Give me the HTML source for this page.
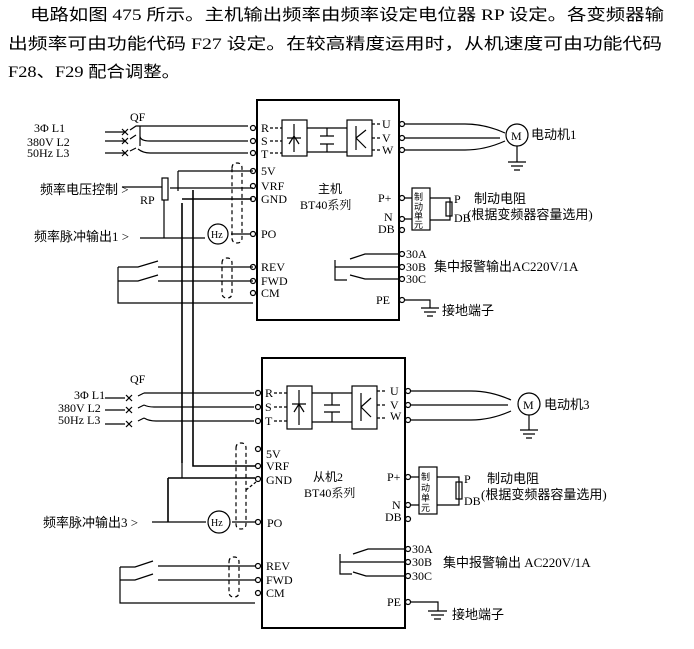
<!DOCTYPE html>
<html><head><meta charset="utf-8"><style>
body{margin:0;background:#fff;}
svg{display:block}
text{font-family:"Liberation Serif","Noto Serif CJK SC",serif;fill:#000}
.c{font-family:"Liberation Serif","Noto Sans CJK SC",sans-serif}
</style></head><body>
<svg width="694" height="649" viewBox="0 0 694 649" xmlns="http://www.w3.org/2000/svg" stroke="#000" fill="none" stroke-width="1.2">
<g stroke="none" font-size="16" class="c">
<text x="30" y="20" class="c" textLength="634" lengthAdjust="spacingAndGlyphs">电路如图 475 所示。主机输出频率由频率设定电位器 RP 设定。各变频器输</text>
<text x="8" y="49" class="c" textLength="654" lengthAdjust="spacingAndGlyphs">出频率可由功能代码 F27 设定。在较高精度运用时，从机速度可由功能代码</text>
<text x="8" y="77" class="c" textLength="172" lengthAdjust="spacingAndGlyphs">F28、F29 配合调整。</text>
</g>

<!-- ===== Box 1 ===== -->
<rect x="257" y="100" width="142" height="220" stroke-width="2"/>
<g font-size="12" stroke="none">
<text x="261" y="132">R</text><text x="261" y="145">S</text><text x="261" y="158">T</text>
<text x="261" y="175">5V</text><text x="261" y="190">VRF</text><text x="261" y="203">GND</text>
<text x="261" y="238">PO</text>
<text x="261" y="271">REV</text><text x="261" y="285">FWD</text><text x="261" y="297">CM</text>
<text x="382" y="128">U</text><text x="382" y="142">V</text><text x="382" y="154">W</text>
<text x="378" y="202">P+</text><text x="384" y="221">N</text><text x="378" y="233">DB</text>
<text x="406" y="258">30A</text><text x="406" y="271">30B</text><text x="406" y="283">30C</text>
<text x="376" y="304">PE</text>
<text x="318" y="193" class="c">主机</text><text x="300" y="209">BT40系列</text>
<text x="34" y="132">3Φ L1</text><text x="27" y="146">380V L2</text><text x="27" y="157">50Hz L3</text>
<text x="130" y="121">QF</text>
<text x="140" y="204">RP</text>
<text x="531" y="139" class="c" font-size="13">电动机1</text>
<text x="454" y="203">P</text><text x="454" y="222">DB</text>
<text x="474" y="203" class="c" font-size="13">制动电阻</text>
<text x="467" y="219" class="c" font-size="13">(根据变频器容量选用)</text>
<text x="434" y="271" class="c" font-size="13">集中报警输出AC220V/1A</text>
<text x="442" y="315" class="c" font-size="13">接地端子</text>
<text x="40" y="194" class="c" font-size="13">频率电压控制 &gt;</text>
<text x="34" y="241" class="c" font-size="13">频率脉冲输出1 &gt;</text>
</g>
<g fill="#fff">
<circle cx="253" cy="128" r="2.5"/><circle cx="253" cy="141" r="2.5"/><circle cx="253" cy="153" r="2.5"/>
<circle cx="253" cy="171" r="2.5"/><circle cx="253" cy="186" r="2.5"/><circle cx="253" cy="199" r="2.5"/>
<circle cx="253" cy="234" r="2.5"/><circle cx="253" cy="267" r="2.5"/><circle cx="253" cy="281" r="2.5"/><circle cx="253" cy="293" r="2.5"/>
<circle cx="402" cy="124" r="2.5"/><circle cx="402" cy="138" r="2.5"/><circle cx="402" cy="150" r="2.5"/>
<circle cx="402" cy="198" r="2.5"/><circle cx="402" cy="219" r="2.5"/><circle cx="402" cy="230" r="2.5"/>
<circle cx="402" cy="254" r="2.5"/><circle cx="402" cy="267" r="2.5"/><circle cx="402" cy="279" r="2.5"/>
<circle cx="402" cy="300" r="2.5"/>
</g>
<rect x="282" y="120" width="25" height="36"/>
<path d="M294 124v28M287 138h14M289 144l5-8 5 8"/>
<path d="M270 128h12M270 141h12M270 153h12" stroke-dasharray="3 2"/>
<path d="M307 128h40M307 152h40M327 128v8M320 136h14M320 144h14M327 144v8"/>
<rect x="347" y="120" width="25" height="36"/>
<path d="M356 126v24M356 138l10-8M356 138l10 10"/>
<path d="M372 124h8M372 138h8M372 150h8" stroke-dasharray="3 2"/>
<path d="M105 132h20M105 141h20M105 153h20"/>
<path d="M122 129l6 6M128 129l-6 6M122 138l6 6M128 138l-6 6M122 150l6 6M128 150l-6 6"/>
<path d="M130 130l6-4h2M130 139l6-4M130 151l6-3"/>
<path d="M140 126v20M138 126h110M140 136q0 5 10 5h98M138 149q5 4 12 4h98"/>
<path d="M405 124h60q20 0 40 9M405 138h95M405 150h60q20 0 40-9"/>
<circle cx="517" cy="135" r="11"/>
<text x="511" y="140" font-size="12" stroke="none" fill="#000">M</text>
<path d="M517 146v16M508 162h18M511 166h12M514 170h6"/>
<path d="M178 171h75M122 187h40"/>
<rect x="162" y="178" width="6" height="22"/>
<path d="M170 188h83M164 200v38M178 171v20"/>
<path d="M182 203v140M182 199h70M193 190v153" stroke-width="1.6"/>
<path d="M140 238h65M231 234h20"/>
<circle cx="218" cy="234" r="10"/>
<text x="211" y="238" font-size="10" stroke="none" fill="#000">Hz</text>
<path d="M232 168q0-5 5-5t5 5v70q0 5-5 5t-5-5z" stroke-dasharray="4 3"/>
<path d="M118 267v36h135M118 267h20l20-6M118 281h20l20-6M158 267h95M158 281h95"/>
<path d="M222 263q0-5 5-5t5 5v30q0 5-5 5t-5-5z" stroke-dasharray="4 3"/>
<rect x="412" y="188" width="18" height="42"/>
<text x="414" y="200" font-size="9" class="c" stroke="none" fill="#000">制</text>
<text x="414" y="210" font-size="9" class="c" stroke="none" fill="#000">动</text>
<text x="414" y="219" font-size="9" class="c" stroke="none" fill="#000">单</text>
<text x="414" y="228" font-size="9" class="c" stroke="none" fill="#000">元</text>
<path d="M405 198h7M405 219h7M430 198h20v22h-20"/>
<rect x="446" y="202" width="6" height="14"/>
<path d="M400 254h-35l-15 5M400 267h-65M400 279h-35l-15-4M335 260v20h12"/>
<path d="M405 300h25v8M421 308h18M424 312h12M427 316h6"/>

<!-- ===== Box 2 ===== -->
<rect x="262" y="358" width="143" height="270" stroke-width="2"/>
<g font-size="12" stroke="none">
<text x="265" y="397">R</text><text x="265" y="411">S</text><text x="265" y="425">T</text>
<text x="266" y="458">5V</text><text x="266" y="470">VRF</text><text x="266" y="484">GND</text>
<text x="267" y="527">PO</text>
<text x="266" y="570">REV</text><text x="266" y="584">FWD</text><text x="266" y="597">CM</text>
<text x="390" y="395">U</text><text x="390" y="409">V</text><text x="390" y="420">W</text>
<text x="387" y="481">P+</text><text x="392" y="509">N</text><text x="385" y="521">DB</text>
<text x="412" y="553">30A</text><text x="412" y="566">30B</text><text x="412" y="580">30C</text>
<text x="387" y="606">PE</text>
<text x="313" y="481" class="c">从机2</text><text x="304" y="497">BT40系列</text>
<text x="74" y="399">3Φ L1</text><text x="58" y="412">380V L2</text><text x="58" y="424">50Hz L3</text>
<text x="130" y="383">QF</text>
<text x="544" y="409" class="c" font-size="13">电动机3</text>
<text x="464" y="483">P</text><text x="464" y="505">DB</text>
<text x="487" y="483" class="c" font-size="13">制动电阻</text>
<text x="481" y="499" class="c" font-size="13">(根据变频器容量选用)</text>
<text x="443" y="567" class="c" font-size="13">集中报警输出 AC220V/1A</text>
<text x="452" y="619" class="c" font-size="13">接地端子</text>
<text x="43" y="527" class="c" font-size="13">频率脉冲输出3 &gt;</text>
</g>
<g fill="#fff">
<circle cx="258" cy="393" r="2.5"/><circle cx="258" cy="407" r="2.5"/><circle cx="258" cy="421" r="2.5"/>
<circle cx="258" cy="449" r="2.5"/><circle cx="258" cy="466" r="2.5"/><circle cx="258" cy="479" r="2.5"/>
<circle cx="258" cy="522" r="2.5"/><circle cx="258" cy="566" r="2.5"/><circle cx="258" cy="580" r="2.5"/><circle cx="258" cy="593" r="2.5"/>
<circle cx="408" cy="391" r="2.5"/><circle cx="408" cy="405" r="2.5"/><circle cx="408" cy="420" r="2.5"/>
<circle cx="408" cy="477" r="2.5"/><circle cx="408" cy="505" r="2.5"/><circle cx="408" cy="519" r="2.5"/>
<circle cx="408" cy="549" r="2.5"/><circle cx="408" cy="562" r="2.5"/><circle cx="408" cy="576" r="2.5"/>
<circle cx="408" cy="602" r="2.5"/>
</g>
<rect x="287" y="386" width="25" height="43"/>
<path d="M299 390v35M292 404h14M294 412l5-8 5 8"/>
<path d="M274 393h13M274 407h13M274 421h13" stroke-dasharray="3 2"/>
<path d="M312 393h40M312 422h40M332 393v12M324 405h16M324 412h16M332 412v10"/>
<rect x="352" y="386" width="25" height="43"/>
<path d="M361 393v28M361 407l10-9M361 407l10 10"/>
<path d="M377 391h9M377 405h9M377 418h9" stroke-dasharray="3 2"/>
<path d="M105 398h20M105 410h20M105 424h20"/>
<path d="M126 395l6 6M132 395l-6 6M126 407l6 6M132 407l-6 6M126 421l6 6M132 421l-6 6"/>
<path d="M138 396l6-3M138 408l6-3M138 421l6-3"/>
<path d="M144 393h110M144 405q4 2 10 2h100M144 418q5 3 12 3h98"/>
<path d="M411 391h60q20 0 40 9M411 405h97M411 420h60q20 0 40-9"/>
<circle cx="529" cy="404" r="11"/>
<text x="523" y="409" font-size="12" stroke="none" fill="#000">M</text>
<path d="M529 415v15M520 430h18M523 434h12M526 438h6"/>
<path d="M182 343v120M193 343v123h62" stroke-width="1.6"/>
<path d="M168 478h87M168 478v44" stroke-width="1.6"/>
<path d="M182 463v15"/>
<path d="M152 522h54M232 522h23"/>
<circle cx="219" cy="522" r="11"/>
<text x="211" y="526" font-size="10" stroke="none" fill="#000">Hz</text>
<path d="M236 448q0-5 5-5t5 5v76q0 5-5 5t-5-5z" stroke-dasharray="4 3"/>
<path d="M246 490l10-8" stroke-dasharray="3 2"/>
<path d="M120 567v36h135M120 567h15l18-6M120 580h15l18-6M158 566h97M158 580h97"/>
<path d="M229 562q0-5 5-5t5 5v30q0 5-5 5t-5-5z" stroke-dasharray="4 3"/>
<rect x="419" y="467" width="18" height="47"/>
<text x="421" y="480" font-size="9" class="c" stroke="none" fill="#000">制</text>
<text x="421" y="491" font-size="9" class="c" stroke="none" fill="#000">动</text>
<text x="421" y="501" font-size="9" class="c" stroke="none" fill="#000">单</text>
<text x="421" y="511" font-size="9" class="c" stroke="none" fill="#000">元</text>
<path d="M411 477h8M411 505h8M437 477h22v28h-22"/>
<rect x="456" y="482" width="6" height="17"/>
<path d="M406 549h-38l-15 5M406 562h-66M406 576h-40l-13-4M340 554v20h12"/>
<path d="M411 602h27v9M428 611h19M431 615h13M434 619h7"/>
</svg>
</body></html>
